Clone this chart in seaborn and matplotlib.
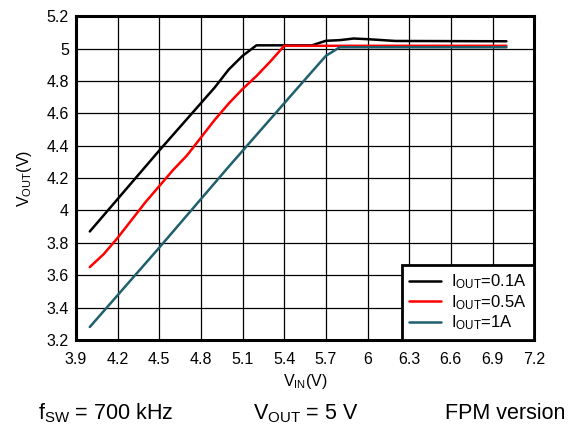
import pandas as pd
import numpy as np
import matplotlib
matplotlib.use("Agg")
import matplotlib.pyplot as plt
import seaborn as sns

# data
vin_01 = [4.0, 4.5, 4.9, 5.0, 5.1, 5.2, 5.3, 5.6, 5.7, 5.8, 5.9, 6.0, 6.2, 6.6, 7.0]
vout_01 = [3.87, 4.37, 4.76, 4.87, 4.955, 5.02, 5.02, 5.02, 5.048, 5.052, 5.062, 5.058, 5.047, 5.046, 5.045]

vin_05 = [4.0, 4.1, 4.2, 4.3, 4.4, 4.5, 4.6, 4.7, 4.8, 4.9, 5.0, 5.1, 5.2, 5.3, 5.4, 6.0, 7.0]
vout_05 = [3.65, 3.73, 3.83, 3.94, 4.05, 4.15, 4.25, 4.34, 4.45, 4.56, 4.66, 4.75, 4.83, 4.92, 5.017, 5.017, 5.017]

vin_1 = [4.0, 4.5, 5.0, 5.5, 5.7, 5.8, 6.5, 7.0]
vout_1 = [3.28, 3.77, 4.27, 4.76, 4.955, 5.008, 5.008, 5.008]

labels = ["I$_{\\mathregular{OUT}}$=0.1A", "I$_{\\mathregular{OUT}}$=0.5A", "I$_{\\mathregular{OUT}}$=1A"]
colors = ["#000000", "#ff0000", "#1f5f6e"]

x_ticks = [3.9, 4.2, 4.5, 4.8, 5.1, 5.4, 5.7, 6.0, 6.3, 6.6, 6.9, 7.2]
x_tick_labels = ["3.9", "4.2", "4.5", "4.8", "5.1", "5.4", "5.7", "6", "6.3", "6.6", "6.9", "7.2"]
y_ticks = [3.2, 3.4, 3.6, 3.8, 4.0, 4.2, 4.4, 4.6, 4.8, 5.0, 5.2]
y_tick_labels = ["3.2", "3.4", "3.6", "3.8", "4", "4.2", "4.4", "4.6", "4.8", "5", "5.2"]

df = pd.concat([
    pd.DataFrame({"vin": vin_01, "vout": vout_01, "load": labels[0]}),
    pd.DataFrame({"vin": vin_05, "vout": vout_05, "load": labels[1]}),
    pd.DataFrame({"vin": vin_1, "vout": vout_1, "load": labels[2]}),
])

sns.set_style("white")
plt.rcParams['font.family'] = ['Liberation Sans', 'DejaVu Sans']
plt.rcParams['mathtext.fontset'] = 'custom'
plt.rcParams['mathtext.rm'] = 'Liberation Sans'
plt.rcParams['mathtext.it'] = 'Liberation Sans'
plt.rcParams['text.color'] = 'black'
plt.rcParams['axes.labelcolor'] = 'black'
plt.rcParams['xtick.color'] = 'black'
plt.rcParams['ytick.color'] = 'black'

fig = plt.figure(figsize=(5.75, 4.26), dpi=100)
ax = fig.add_axes([0.132, 0.202, 0.797, 0.760])

sns.lineplot(data=df, x="vin", y="vout", hue="load", palette=colors,
             hue_order=labels, linewidth=1.8, sort=False, estimator=None, ax=ax)

ax.set_xlim(3.9, 7.2)
ax.set_ylim(3.2, 5.2)
ax.set_xticks(x_ticks)
ax.set_xticklabels(x_tick_labels)
ax.set_yticks(y_ticks)
ax.set_yticklabels(y_tick_labels)
ax.tick_params(labelsize=11.5, length=0)
ax.tick_params(axis="x", pad=9)
ax.tick_params(axis="y", pad=5)
ax.grid(True, color="black", linewidth=0.9)
ax.set_axisbelow(True)
for s in ax.spines.values():
    s.set_visible(True)
    s.set_color("black")
    s.set_linewidth(2.2)

ax.set_xlabel("V$_{\\mathregular{IN}}$(V)", fontsize=11.5, labelpad=3)
ax.set_ylabel("V$_{\\mathregular{OUT}}$(V)", fontsize=11.5, labelpad=9)

leg = ax.legend(loc="lower right", fontsize=12, fancybox=False, framealpha=1,
                borderaxespad=0, handlelength=1.9, handletextpad=0.6,
                labelspacing=0.12, borderpad=0.45)
leg.get_frame().set_edgecolor("black")
leg.get_frame().set_linewidth(2.0)

fig.text(0.066, 0.016, "f$_{\\mathregular{SW}}$ = 700 kHz", fontsize=15.5, ha="left", va="baseline")
fig.text(0.44, 0.016, "V$_{\\mathregular{OUT}}$ = 5 V", fontsize=15.5, ha="left", va="baseline")
fig.text(0.983, 0.016, "FPM version", fontsize=15.5, ha="right", va="baseline")

fig.savefig("out.png", dpi=100)
